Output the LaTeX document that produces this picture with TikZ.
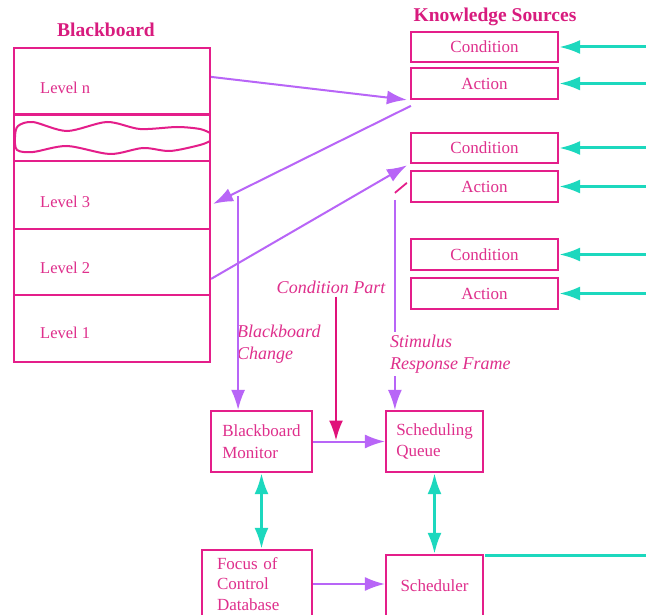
\documentclass[tikz,border=0pt]{standalone}
\usepackage{fontspec}
\setmainfont{Liberation Serif}
\usetikzlibrary{arrows.meta,calc}
\definecolor{mag}{HTML}{E41E8A}
\definecolor{magtext}{HTML}{DF2F8C}
\definecolor{magdark}{HTML}{D81B7E}
\definecolor{cpmag}{HTML}{E0127A}
\definecolor{purp}{HTML}{B865F7}
\definecolor{cyn}{HTML}{1CD8BE}
\begin{document}
\begin{tikzpicture}[x=1pt,y=-1pt,
  box/.style={draw=mag, line width=2.2pt, rectangle, inner sep=0pt, text=magtext, font=\fontsize{17}{21.5}\selectfont},
  ks/.style={box, minimum width=147pt, minimum height=30.5pt},
  lvl/.style={draw=mag, line width=2.2pt, rectangle, minimum width=196pt, inner sep=0pt},
  lbl/.style={text=magtext, font=\fontsize{16.5}{20}\selectfont, anchor=west, inner sep=0pt},
  ital/.style={text=magtext, font=\itshape\fontsize{18}{21.5}\selectfont, align=left, inner sep=0pt},
  ttl/.style={text=magdark, font=\bfseries\fontsize{19.5}{24}\selectfont, inner sep=0pt},
  pline/.style={draw=purp, line width=2pt},
  parr/.style={pline, -{Latex[length=20pt,width=14pt]}},
  marr/.style={draw=cpmag, line width=2.2pt, -{Latex[length=20pt,width=14pt]}},
  cline/.style={draw=cyn, line width=3pt},
  carr/.style={cline, -{Latex[length=21pt,width=14pt]}},
  cdarr/.style={cline, {Latex[length=21pt,width=14pt]}-{Latex[length=21pt,width=14pt]}}
]
\useasboundingbox (0,0) rectangle (646,615);
\clip (0,0) rectangle (646,615);
\fill[white] (0,0) rectangle (646,615);

% Blackboard
\node[ttl] (bbt) at (106,30) {Blackboard};
\node[lvl, minimum height=66pt] (levn) at (112,81) {};
\node[lvl, minimum height=46pt] (strip) at (112,138) {};
\node[lvl, minimum height=68pt] (lev3) at (112,195) {};
\node[lvl, minimum height=66pt] (lev2) at (112,262) {};
\node[lvl, minimum height=67pt] (lev1) at (112,328.5) {};
\node[lbl] (ln) at (40,88) {Level n};
\node[lbl] (l3) at (40,202) {Level 3};
\node[lbl] (l2) at (40,268) {Level 2};
\node[lbl] (l1) at (40,333) {Level 1};
\draw[mag, line width=2pt] plot[smooth] coordinates {(210,133) (200,129) (177,127) (140,129) (107,122) (67,131) (33,122) (18,126) (15,137) (17,150) (33,152) (67,146) (110,154) (143,148) (170,151) (200,145) (210,141)};

% Knowledge sources
\node[ttl] (kst) at (495,17) {Knowledge Sources};
\node[ks] (C1) at (484.5,47) {Condition};
\node[ks] (A1) at (484.5,83.5) {Action};
\node[ks] (C2) at (484.5,148) {Condition};
\node[ks] (A2) at (484.5,186.5) {Action};
\node[ks] (C3) at (484.5,254.5) {Condition};
\node[ks] (A3) at (484.5,293.5) {Action};

% lower boxes
\node[box, minimum width=101pt, minimum height=61pt, align=left] (mon) at (261.5,441.5) {Blackboard\\Monitor};
\node[box, minimum width=97pt, minimum height=61pt, align=left] (q) at (434.5,441.5) {Scheduling\\Queue};
\node[box, text width=80pt, inner xsep=15pt, minimum height=68pt, align=left, font=\fontsize{17}{20.5}\selectfont] (foc) at (257,584) {Focus of\\Control\\Database};
\node[box, minimum width=97pt, minimum height=62pt] (sch) at (434.5,586) {Scheduler};

% italic labels
\node[ital, anchor=west] (bcl) at (237,344) {Blackboard\\Change};
\node[ital, anchor=west] (srl) at (390,354) {Stimulus\\Response Frame};
\node[ital] (cpl) at (331,287) {Condition Part};

% purple connectors
\draw[parr] ($(levn.north east)+(0,30)$) -- ($(A1.south west)+(-3,0)$);
\draw[parr] ($(A1.south west)+(1,6)$) -- ($(lev3.north east)+(2,44)$);
\draw[parr] ($(lev2.north east)+(0,51)$) -- ($(C2.south west)+(-3,1)$);
\coordinate (bc) at ($(lev3.north east)+(27,36)$);
\draw[parr] (bc) -- (bc |- mon.north);
\coordinate (sr) at ($(A2.south west)+(-15,-3)$);
\draw[pline] (sr) -- ($(sr |- srl.north)+(0,-3)$);
\draw[parr] ($(sr |- srl.south)+(0,3)$) -- (sr |- q.north);
\draw[mag, line width=1.8pt] ($(A2.south west)+(-15,-10)$) -- ($(A2.south west)+(-3,-20)$);
\coordinate (cp) at ($(cpl.south)+(5,3)$);
\draw[marr] (cp) -- ($(cp |- mon.east)+(0,-1)$);
\draw[parr] (mon.east) -- (q.west);
\draw[parr] (foc.east) -- (foc.east -| sch.west);

% cyan connectors
\coordinate (re) at (646,0);
\draw[carr] (re |- C1.east) -- (C1.east);
\draw[carr] (re |- A1.east) -- (A1.east);
\draw[carr] (re |- C2.east) -- (C2.east);
\draw[carr] (re |- A2.east) -- (A2.east);
\draw[carr] (re |- C3.east) -- (C3.east);
\draw[carr] (re |- A3.east) -- (A3.east);
\draw[cdarr] (mon.south) -- (mon.south |- foc.north);
\draw[cdarr] (q.south) -- (sch.north);
\coordinate (sl) at ($(sch.north east)+(1,2)$);
\draw[cline] (sl) -- (sl -| re);
\end{tikzpicture}
\end{document}
